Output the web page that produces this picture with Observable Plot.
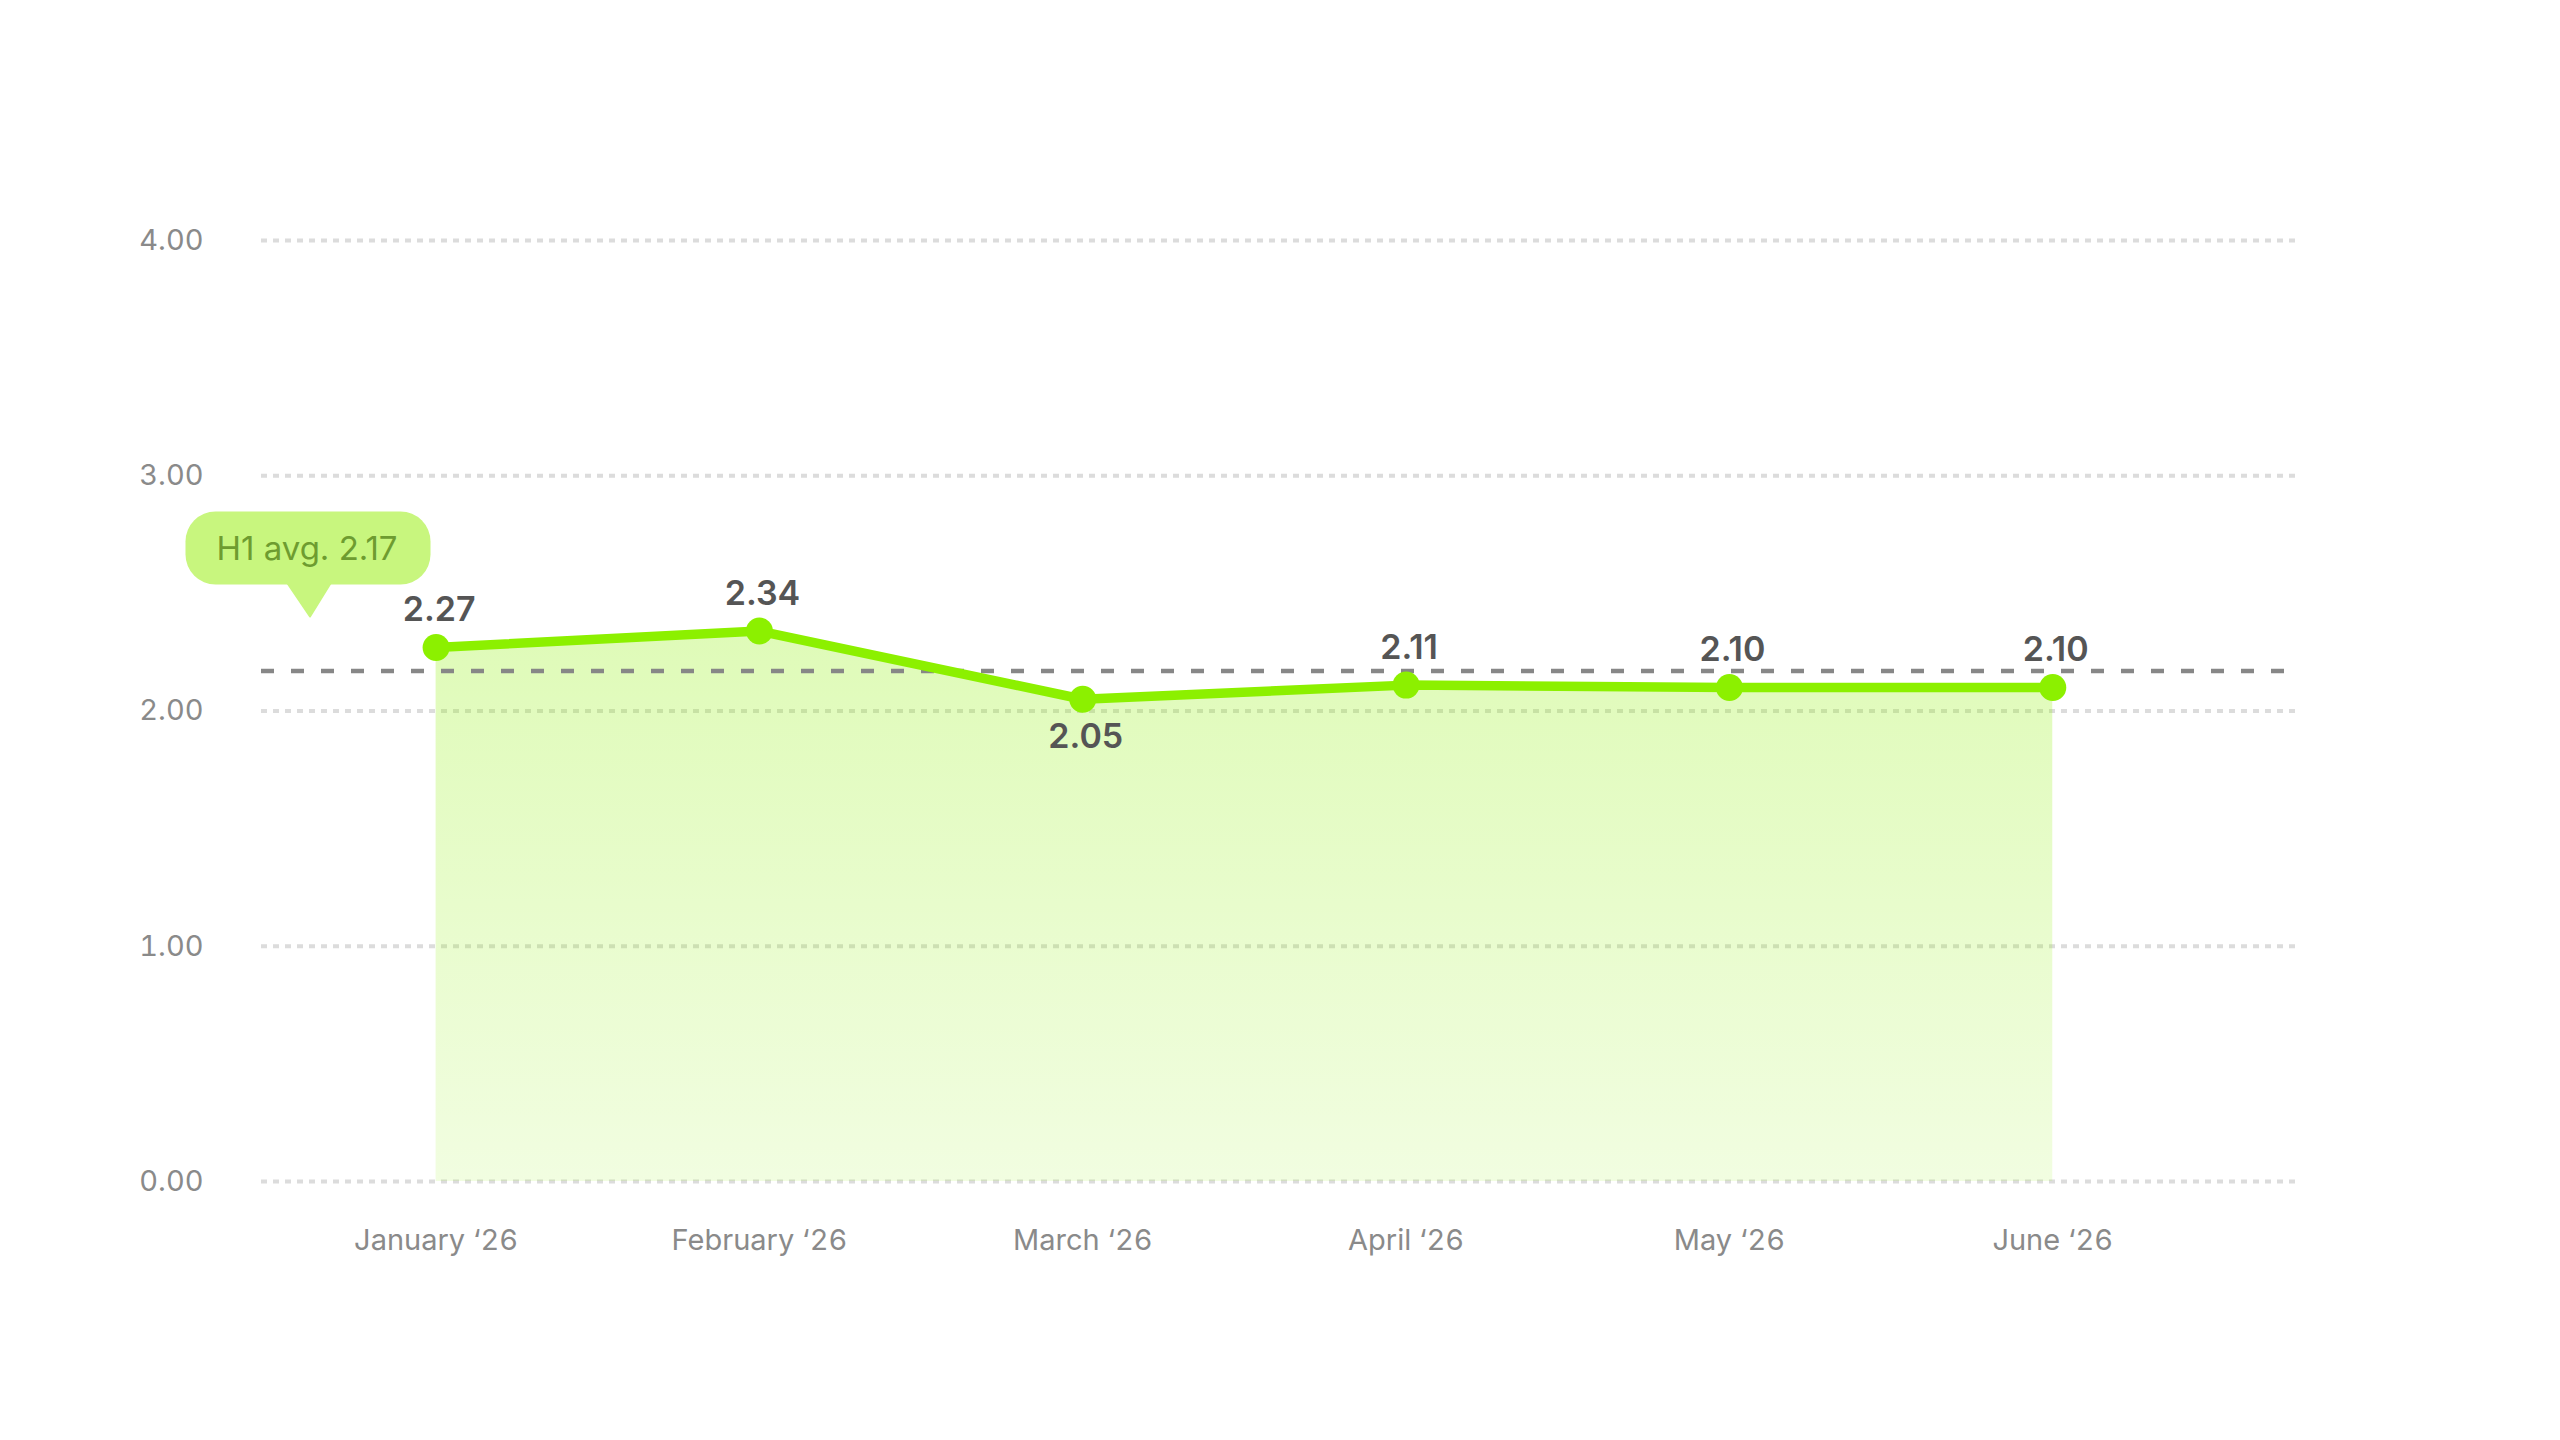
<!DOCTYPE html>
<html>
<head>
<meta charset="utf-8">
<script src="https://cdn.jsdelivr.net/npm/d3@7"></script>
<script src="https://cdn.jsdelivr.net/npm/@observablehq/plot@0.6"></script>
<style>
  html, body { margin: 0; padding: 0; background: #fff; }
  #chart svg { display: block; }
</style>
</head>
<body>
<div id="chart"></div>
<script>
// ---- data ----
const months = ["January ‘26", "February ‘26", "March ‘26", "April ‘26", "May ‘26", "June ‘26"];
const values = [2.27, 2.34, 2.05, 2.11, 2.10, 2.10];
const labelBelow = [false, false, true, false, false, false];
const avgValue = 2.17;
const avgLabel = "H1 avg. 2.17";
const yTicks = [0, 1, 2, 3, 4];

const data = months.map((m, i) => ({i, month: m, value: values[i], below: labelBelow[i]}));

const GREEN = "#8cf000";

function gradientDefs() {
  const defs = d3.create("svg:defs");
  const lg = defs.append("linearGradient")
    .attr("id", "areaGrad").attr("x1", 0).attr("y1", 0).attr("x2", 0).attr("y2", 1);
  lg.append("stop").attr("offset", "0%").attr("stop-color", GREEN).attr("stop-opacity", 0.28);
  lg.append("stop").attr("offset", "100%").attr("stop-color", GREEN).attr("stop-opacity", 0.12);
  return defs.node();
}

function bubble(index, scales, values, dimensions) {
  const yAvg = scales.y(avgValue);
  const cx = dimensions.marginLeft + 47;
  const w = 245, h = 73;
  const bottom = yAvg - 86;
  const g = d3.create("svg:g");
  g.append("rect")
    .attr("x", cx - w / 2).attr("y", bottom - h)
    .attr("width", w).attr("height", h).attr("rx", 30)
    .attr("fill", "#c8f67e");
  g.append("path")
    .attr("d", `M${cx - 21},${bottom - 2}L${cx + 23},${bottom - 2}L${cx + 2},${yAvg - 54}Z`)
    .attr("fill", "#c8f67e").attr("stroke", "#c8f67e").attr("stroke-width", 2).attr("stroke-linejoin", "round");
  g.append("text")
    .attr("x", cx - 1).attr("y", bottom - h / 2)
    .attr("dy", "0.35em")
    .attr("text-anchor", "middle")
    .attr("font-size", 33)
    .attr("fill", "#6e9c30")
    .text(avgLabel);
  return g.node();
}

const chart = Plot.plot({
  width: 2560,
  height: 1440,
  marginLeft: 261,
  marginRight: 262,
  marginTop: 240,
  marginBottom: 259,
  style: {fontFamily: "Inter, sans-serif", background: "#fff"},
  x: {type: "linear", domain: [-0.54, 5.76]},
  y: {domain: [0, 4]},
  marks: [
    gradientDefs,
    Plot.ruleY(yTicks, {stroke: "#dcdcdc", strokeWidth: 4, strokeDasharray: "6,6"}),
    Plot.areaY(data, {x: "i", y: "value", fill: "url(#areaGrad)"}),
    Plot.axisY(yTicks, {
      tickSize: 0, tickPadding: 58, fontSize: 29, fill: "#8a8a8a", label: null,
      tickFormat: d => d.toFixed(2)
    }),
    Plot.axisX(d3.range(months.length), {
      tickSize: 0, tickPadding: 48, fontSize: 29, fill: "#8a8a8a", label: null,
      tickFormat: i => months[i]
    }),
    Plot.ruleY([avgValue], {stroke: "#878787", strokeWidth: 4.5, strokeDasharray: "13,17"}),
    Plot.line(data, {x: "i", y: "value", stroke: GREEN, strokeWidth: 9.5, strokeLinejoin: "round", strokeLinecap: "round"}),
    Plot.dot(data, {x: "i", y: "value", r: 13.5, fill: GREEN}),
    Plot.text(data.filter(d => !d.below), {
      x: "i", y: "value", text: d => d.value.toFixed(2), dy: -37, dx: 3,
      fontSize: 34, fontWeight: 600, fill: "#555"
    }),
    Plot.text(data.filter(d => d.below), {
      x: "i", y: "value", text: d => d.value.toFixed(2), dy: 38, dx: 3,
      fontSize: 34, fontWeight: 600, fill: "#555"
    }),
    bubble
  ]
});

document.getElementById("chart").appendChild(chart);
</script>
</body>
</html>
